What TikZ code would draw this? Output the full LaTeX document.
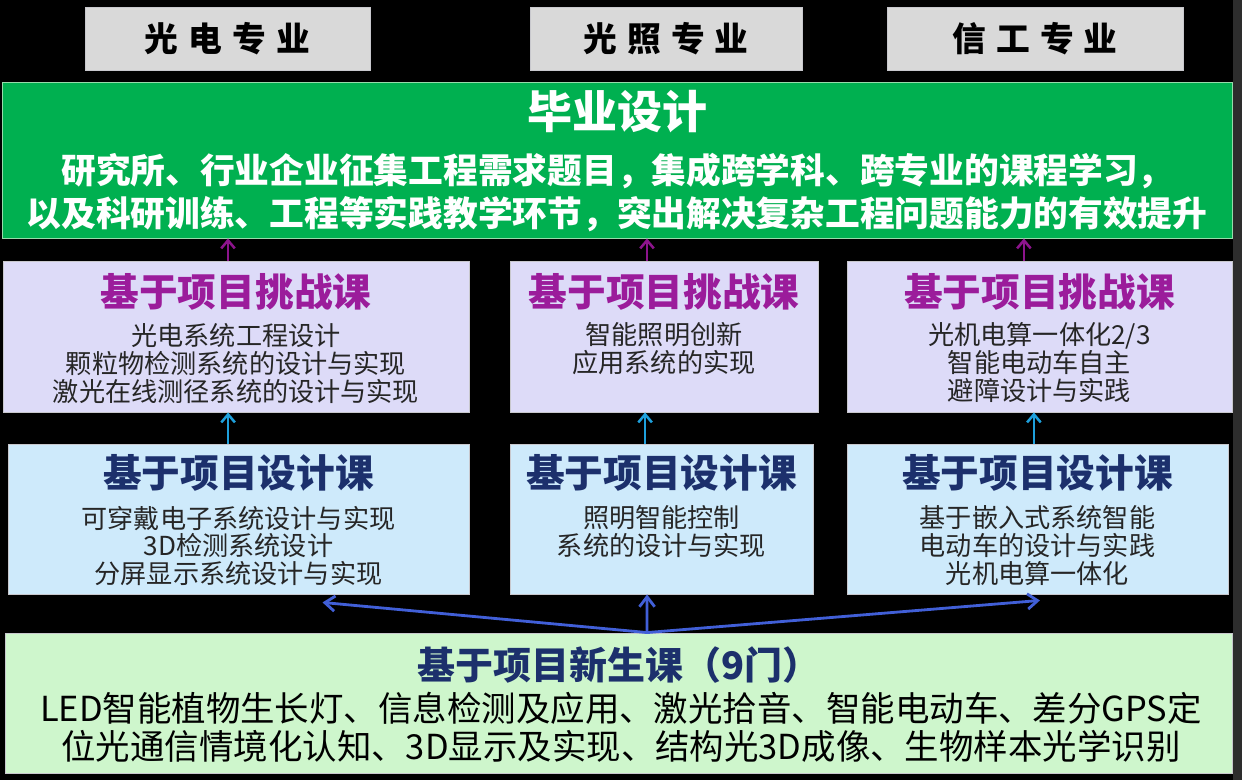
\documentclass[tikz,border=0pt]{standalone}
\usepackage{fontspec}
\setmainfont{Noto Sans CJK SC}
\newfontfamily\majorfont[LetterSpace=30]{Noto Sans CJK SC}
\usetikzlibrary{arrows.meta}
\definecolor{headgray}{RGB}{217,217,217}
\definecolor{gradgreen}{RGB}{0,176,80}
\definecolor{gradline}{RGB}{150,220,170}
\definecolor{chalfill}{RGB}{221,219,248}
\definecolor{chaltitle}{RGB}{155,28,155}
\definecolor{desfill}{RGB}{206,234,251}
\definecolor{navy}{RGB}{28,48,108}
\definecolor{freshfill}{RGB}{206,246,204}
\definecolor{boxline}{RGB}{200,200,205}
\definecolor{bodygray}{RGB}{38,38,38}
\definecolor{purparrow}{RGB}{140,20,140}
\definecolor{cyanarrow}{RGB}{30,160,220}
\definecolor{bluearrow}{RGB}{65,95,215}
\definecolor{edgegray}{RGB}{45,45,45}
\begin{document}
\begin{tikzpicture}[x=0.025cm, y=-0.025cm,
    box/.style={draw=boxline, line width=0.6pt, inner sep=0pt},
    head node/.style={box, fill=headgray, minimum height=1.575cm, font=\majorfont\bfseries\fontsize{24}{24}\selectfont},
    grad node/.style={box, draw=gradline, fill=gradgreen, minimum width=30.725cm, minimum height=3.9cm},
    chal node/.style={box, fill=chalfill, minimum height=3.775cm},
    des node/.style={box, fill=desfill, minimum height=3.75cm},
    fresh node/.style={box, fill=freshfill, minimum width=30.65cm, minimum height=3.5cm},
    title text/.style={inner sep=0pt, font=\bfseries\fontsize{27.5}{27.5}\selectfont},
    body text/.style={inner sep=0pt, align=center, text=bodygray, font=\fontsize{18.6}{19.9}\selectfont},
    up arrow/.style={line width=1.8pt, -{Straight Barb[length=2mm,width=3.4mm]}},
    split arrow/.style={line width=2pt, bluearrow, -{Straight Barb[length=2.5mm,width=3.8mm]}}]
        \fill[black] (0,0) rectangle (1242,780);
        \fill[edgegray] (1233,0) rectangle (1242,780);
        \useasboundingbox (0,0) rectangle (1242,780);

        % majors
        \node[head node, minimum width=7.125cm] at (227.5, 38.5) (hdA) {\raisebox{-1.2mm}{光电专业}};
        \node[head node, minimum width=6.8cm] at (666, 38.5) (hdB) {\raisebox{-1.2mm}{光照专业}};
        \node[head node, minimum width=7.4cm] at (1035, 38.5) (hdC) {\raisebox{-1.2mm}{信工专业}};

        % graduation design
        \node[grad node] at (617.5, 160) (grad) {};
        \node[inner sep=0pt, text=white, font=\bfseries\fontsize{32}{32}\selectfont] at (617, 112) (gradT) {毕业设计};
        \node[inner sep=0pt, align=center, text=white, font=\bfseries\fontsize{24.7}{30.6}\selectfont] at (617, 192.5) (gradB)
            {研究所、行业企业征集工程需求题目，集成跨学科、跨专业的课程学习，\\以及科研训练、工程等实践教学环节，突出解决复杂工程问题能力的有效提升};

        % challenge courses
        \node[chal node, minimum width=11.65cm] at (236, 336.5) (chA) {};
        \node[chal node, minimum width=7.7cm] at (664, 336.5) (chB) {};
        \node[chal node, minimum width=9.625cm] at (1039.5, 336.5) (chC) {};
        \node[title text, text=chaltitle] at (236, 292) (chAT) {基于项目挑战课};
        \node[title text, text=chaltitle] at (664, 292) (chBT) {基于项目挑战课};
        \node[title text, text=chaltitle] at (1039.5, 292) (chCT) {基于项目挑战课};
        \node[body text] at (236, 364) (chAB) {光电系统工程设计\\颗粒物检测系统的设计与实现\\激光在线测径系统的设计与实现};
        \node[body text] at (664, 349) (chBB) {智能照明创新\\应用系统的实现};
        \node[body text] at (1039.5, 363) (chCB) {光机电算一体化2/3\\智能电动车自主\\避障设计与实践};

        % design courses
        \node[des node, minimum width=11.525cm] at (238.5, 519) (deA) {};
        \node[des node, minimum width=7.575cm] at (661.5, 519) (deB) {};
        \node[des node, minimum width=9.525cm] at (1037.5, 519) (deC) {};
        \node[title text, text=navy] at (238.5, 473) (deAT) {基于项目设计课};
        \node[title text, text=navy] at (661.5, 473) (deBT) {基于项目设计课};
        \node[title text, text=navy] at (1037.5, 473) (deCT) {基于项目设计课};
        \node[body text] at (238.5, 546) (deAB) {可穿戴电子系统设计与实现\\3D检测系统设计\\分屏显示系统设计与实现};
        \node[body text] at (661.5, 532) (deBB) {照明智能控制\\系统的设计与实现};
        \node[body text] at (1037.5, 546) (deCB) {基于嵌入式系统智能\\电动车的设计与实践\\光机电算一体化};

        % freshman courses
        \node[fresh node] at (619, 703) (fresh) {};
        \node[title text, text=navy, font=\bfseries\fontsize{27}{27}\selectfont] at (619, 665) (frT) {基于项目新生课（9门）};
        \node[inner sep=0pt, align=center, text=black, font=\fontsize{24.5}{27}\selectfont] at (621, 727.5) (frB)
            {LED智能植物生长灯、信息检测及应用、激光拾音、智能电动车、差分GPS定\\位光通信情境化认知、3D显示及实现、结构光3D成像、生物样本光学识别};
        \coordinate (hub) at ([xshift=7mm]fresh.north);

        \path[up arrow, purparrow]
            ([xshift=-2mm]chA.north) edge ([xshift=-2mm]chA.north |- grad.south)
            ([xshift=-4.25mm]chB.north) edge ([xshift=-4.25mm]chB.north |- grad.south)
            ([xshift=-3.9mm]chC.north) edge ([xshift=-3.9mm]chC.north |- grad.south)
            ;
        \path[up arrow, cyanarrow]
            ([xshift=-2.6mm]deA.north) edge ([xshift=-2.6mm]deA.north |- chA.south)
            ([xshift=-4.1mm]deB.north) edge ([xshift=-4.1mm]deB.north |- chB.south)
            ([xshift=-0.9mm]deC.north) edge ([xshift=-0.9mm]deC.north |- chC.south)
            ;
        \path[split arrow]
            (hub) edge ([xshift=2.1cm, yshift=-2mm]deA.south)
            (hub) edge ([xshift=-3.6mm]deB.south)
            (hub) edge ([xshift=0.6mm, yshift=-1.5mm]deC.south)
            ;
\end{tikzpicture}
\end{document}
